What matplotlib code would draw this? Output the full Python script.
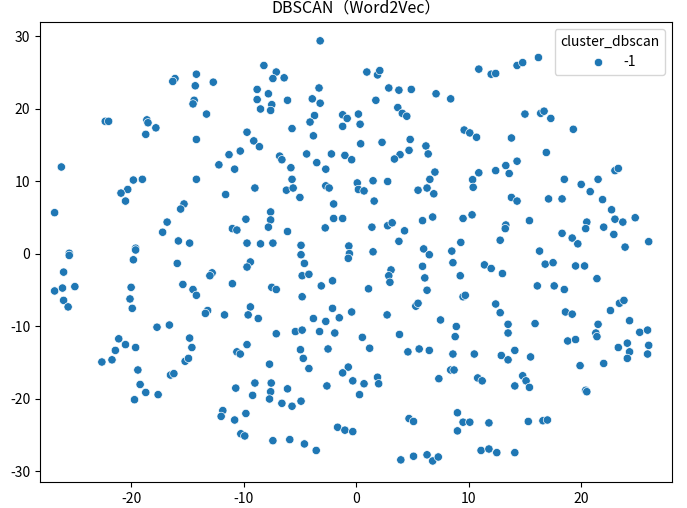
import pandas as pd
import numpy as np
import seaborn as sns
import matplotlib.pyplot as plt

plt.rcParams['font.family'] = ['Noto Sans CJK SC', 'DejaVu Sans']
plt.rcParams['axes.unicode_minus'] = False

# t-SNE coordinates of the Word2Vec vectors
tsne_x = [
    -16.1, -16.3, -14.2, -14.3, -14.4, -14.5, -22.3, -22.0, -18.6, -18.5, -17.8, -18.7, -14.2, -26.2,
    -3.2, -8.2, -7.1, -7.4, -6.4, -12.7, -8.8, -7.8, -8.8, -7.5, -7.6, -8.5, -6.1, -3.3, -3.9, -3.2,
    -3.7, -4.1, -3.8, -13.3, -5.7, -9.7, -9.1, -8.6, -10.3, -11.3, -12.2, -10.8, -6.8, -6.6, -5.8,
    -4.4, -3.5, -2.7, -2.2, -1.0, -0.4, -1.2, -0.8, -1.2,
    0.95, 1.9, 2.1, 10.9, 12.0, 12.4, 2.9, 3.8, 4.9, 7.1, 8.4, 1.75, 0.2, 0.35, 3.7, 4.1, 4.5,
    9.6, 10.1, 10.7, 13.8, 0.4, 2.3, 4.8, 4.7, 3.9, 3.4, 6.2, 6.4, 7.0, 10.9, 12.4, 13.3, 13.6,
    14.3, 14.8, 16.2, 15.0, 16.4, 16.7, 17.3, 19.3, 16.9, 14.3, 23.0, 23.3,
    -19.8, -19.0, -20.3, -20.9, -20.5, -14.2, -26.8, -15.3, -15.6, -16.8, -17.2, -15.8, -14.8,
    -25.5, -25.5, -19.6, -19.6, -19.8, -15.9, -26.0, -26.8, -26.1, -25.0, -26.0, -25.6, -20.0,
    -20.1, -19.9, -15.4, -14.5, -14.2, -17.7, -16.6,
    -5.7, -6.2, -5.6, -5.0, -9.0, -11.6, -2.7, -2.4, -2.0, -2.0, -1.2, -2.75, -7.6, -7.6, -7.8,
    -9.8, -11.0, -10.6, -6.1, -9.7, -8.5, -7.4, -4.9, -4.9, -4.6, -4.8, -4.2, -9.4, -9.7, -12.8,
    -13.0, -11.0, -7.5, -7.1, -3.1, -2.1, -0.65, -0.6, -0.7, -4.8, -9.4, -9.6, -8.7, -11.7, -13.2,
    -13.4, -2.1, -1.5, -0.4, -3.8, -2.7,
    0.1, 0.2, 0.7, 1.5, 2.8, 1.6, 6.55, 6.3, 5.5, 6.9, 10.35, 10.4, 13.8, 1.4, 2.8, 3.2, 4.3, 3.8,
    5.9, 6.8, 9.5, 10.3, 13.3, 13.25, 12.8, 9.3, 1.5, 6.0, 6.5, 8.5, 8.6, 5.9, 3.1, 2.9, 3.0, 6.1,
    6.3, 9.25, 11.4, 12.0, 13.0, 1.1, 5.3, 5.5, 9.5, 9.7, 12.4, 12.8, 13.5, 2.75, 7.5, 8.9,
    18.5, 21.5, 20.0, 20.8, 17.1, 18.3, 21.9, 14.3, 22.7, 23.0, 23.7, 24.8, 15.4, 20.5, 20.4, 22.0,
    22.9, 18.3, 19.2, 19.7, 23.9, 26.0, 16.3, 16.8, 17.5, 19.5, 20.3, 21.4, 16.1, 17.6, 18.5, 23.4,
    23.8, 22.6, 18.6, 19.2, 24.3, 15.9, 21.5,
    -21.1, -20.5, -21.4, -21.7, -22.6, -19.6, -19.4, -19.2, -18.7, -19.7, -17.6, -14.8, -14.6,
    -15.2, -14.9, -16.5, -16.2,
    -7.1, -5.4, -4.8, -3.25, -1.9, -9.7, -10.6, -10.3, -4.95, -4.7, -4.2, -2.5, -7.7, -0.7, -1.2,
    -0.3, -2.6, -9.0, -7.55, -7.6, -7.7, -10.7, -9.2, -6.1, -6.6, -5.7, -4.9, -11.85, -12.0, -10.8,
    -9.8, -10.25, -9.9, -7.4, -5.9, -4.6, -3.55, -1.65, -1.0, -0.3,
    0.55, 3.85, 8.8, 13.5, 1.2, 4.6, 5.6, 6.5, 8.6, 10.5, 12.9, 13.5, 8.4, 8.7, 7.35, 10.8, 11.2,
    0.7, 1.9, 2.0, 0.3, 4.7, 5.1, 9.0, 9.5, 10.1, 9.0, 11.8, 3.97, 5.1, 6.3, 6.8, 7.3, 11.1, 11.8, 12.5,
    21.3, 21.4, 25.2, 25.9, 18.8, 19.5, 23.3, 24.1, 24.3, 24.1, 26.0, 25.9, 14.1, 15.5, 19.9, 22.0,
    14.8, 15.1, 15.4, 14.1, 20.4, 20.5, 15.3, 16.6, 17.0, 14.1,
]
tsne_y = [
    24.2, 23.8, 24.8, 23.2, 21.2, 20.7, 18.3, 18.3, 18.5, 18.1, 17.4, 16.5, 15.8, 12.0,
    29.4, 26.0, 25.1, 24.2, 24.3, 23.7, 22.7, 22.1, 21.3, 20.6, 19.8, 20.0, 21.2, 22.9, 21.4, 20.8,
    19.1, 18.2, 16.3, 19.3, 17.3, 16.8, 15.6, 14.8, 14.2, 13.7, 12.3, 11.7, 13.5, 13.0, 11.9,
    13.8, 12.6, 11.7, 13.8, 13.6, 13.0, 19.2, 18.7, 17.6,
    25.1, 24.7, 25.3, 25.5, 24.8, 24.9, 22.9, 22.6, 22.7, 22.1, 21.4, 21.2, 19.3, 17.9, 20.2, 19.4, 19.0,
    17.1, 16.7, 16.1, 16.0, 15.2, 15.4, 15.8, 14.3, 13.7, 13.1, 14.9, 13.8, 11.3, 11.2, 11.5, 12.2, 11.1,
    26.0, 26.4, 27.1, 19.3, 19.4, 19.7, 18.7, 17.2, 14.0, 12.8, 11.5, 11.8,
    10.2, 10.3, 8.9, 8.4, 7.3, 10.3, 5.7, 6.9, 6.2, 4.4, 3.0, 1.8, 1.5,
    0.1, -0.2, 0.8, 0.55, -0.8, -1.3, -2.5, -5.1, -4.7, -4.5, -6.4, -7.3, -4.6,
    -6.2, -7.5, -4.2, -4.9, -5.7, -10.1, -9.8,
    10.3, 8.8, 9.1, 7.8, 9.1, 8.2, 9.4, 9.1, 6.9, 4.9, 4.9, 3.6, 5.8, 4.7, 3.7,
    4.8, 3.5, 3.3, 3.1, 1.5, 1.4, 1.5, 1.2, -0.1, -1.3, -3.0, -2.8, -1.1, -1.8, -2.6,
    -3.0, -4.1, -4.6, -4.9, -4.4, -3.7, 1.1, 0.05, -0.6, -5.9, -7.3, -8.4, -8.9, -8.4, -7.8,
    -8.2, -7.5, -8.8, -8.0, -8.9, -9.3,
    9.8, 8.9, 8.7, 10.1, 10.0, 7.3, 10.3, 9.1, 8.8, 8.3, 10.25, 9.2, 7.8, 3.7, 3.9, 4.3, 3.2, 1.75,
    4.6, 5.1, 4.9, 5.4, 4.0, 3.5, 1.9, 1.6, 0.3, 0.7, -0.1, 0.4, -1.2, -1.7, -2.2, -3.0, -3.9, -3.3,
    -5.0, -3.0, -1.5, -2.0, -2.7, -4.8, -7.2, -6.8, -5.9, -5.7, -6.9, -8.1, -9.7, -8.4, -9.1, -10.0,
    10.3, 10.3, 9.6, 8.6, 7.6, 7.6, 7.5, 7.3, 6.1, 4.8, 4.4, 5.0, 4.6, 4.4, 3.5, 3.7,
    2.7, 2.85, 2.2, 1.4, 0.95, 1.7, 0.4, -1.4, -1.2, -1.65, -1.65, -3.4, -4.4, -4.4, -4.9, -6.8,
    -6.4, -7.8, -8.0, -8.3, -9.2, -9.6, -9.7,
    -11.7, -12.5, -13.3, -14.6, -14.9, -12.9, -16.0, -18.0, -19.1, -20.1, -19.4, -11.6, -12.9,
    -14.8, -14.4, -16.7, -16.5,
    -11.0, -10.7, -10.5, -10.7, -10.9, -12.5, -13.5, -13.8, -13.2, -14.4, -15.8, -13.1, -15.2, -15.6, -16.4,
    -17.5, -18.2, -17.8, -17.8, -19.0, -20.0, -18.5, -19.5, -18.6, -20.6, -21.0, -20.3, -21.6, -22.4, -22.9,
    -22.0, -24.8, -25.1, -25.75, -25.6, -26.2, -27.1, -23.9, -24.3, -24.5,
    -11.5, -11.1, -11.4, -10.9, -13.0, -13.5, -13.1, -13.3, -13.8, -13.8, -14.0, -14.6, -16.0, -16.0, -17.2, -17.1, -17.5,
    -17.9, -17.0, -17.9, -19.4, -22.7, -23.1, -21.9, -23.2, -23.2, -24.4, -23.3, -28.4, -27.9, -27.7, -28.55, -28.0, -27.1, -26.9, -27.4,
    -10.9, -11.4, -10.8, -10.5, -12.0, -11.8, -12.9, -12.3, -13.5, -14.4, -12.6, -13.8, -13.3, -14.2, -15.4, -15.1,
    -16.8, -17.5, -18.4, -18.2, -18.8, -19.0, -23.1, -23.0, -22.9, -27.4,
]

df = pd.DataFrame({'x': tsne_x, 'y': tsne_y})
df['cluster_dbscan'] = -1

fig = plt.figure(figsize=(6.87, 5.08), dpi=100)
ax = fig.add_axes([0.0582, 0.0512, 0.9198, 0.9055])
sns.scatterplot(data=df, x='x', y='y', hue='cluster_dbscan', palette=['#1f77b4'], ax=ax)

ax.set_xlim(-28.1, 28.06)
ax.set_ylim(-31.45, 32.0)
ax.set_xlabel('')
ax.set_ylabel('')
ax.set_title('DBSCAN（Word2Vec）', fontsize=11.5)
ax.legend(title='cluster_dbscan', loc='upper right')

plt.savefig('out.png', dpi=100)
